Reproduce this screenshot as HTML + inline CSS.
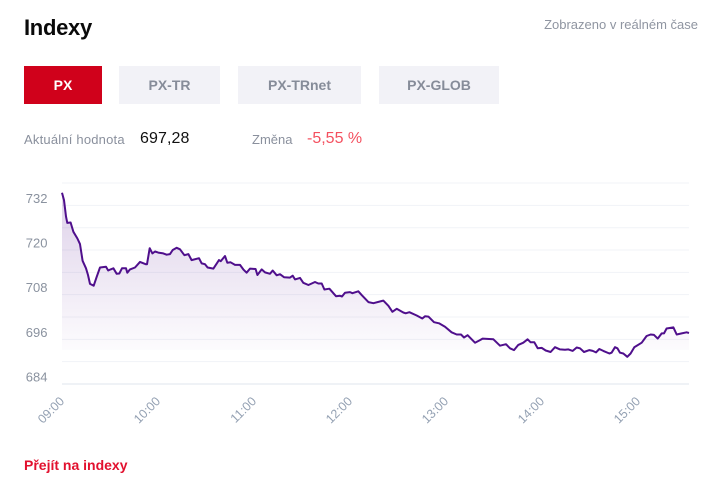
<!DOCTYPE html>
<html lang="cs">
<head>
<meta charset="utf-8">
<title>Indexy</title>
<style>
html,body{margin:0;padding:0;background:#fff;}
body{width:726px;height:484px;position:relative;overflow:hidden;font-family:"Liberation Sans",sans-serif;}
.t{position:absolute;white-space:nowrap;line-height:1;}
.btn{position:absolute;top:66px;height:38px;line-height:38px;text-align:center;font-size:14px;font-weight:bold;background:#f2f2f7;color:#868c99;cursor:pointer;}
#chart{position:absolute;left:0;top:0;}
</style>
</head>
<body>
<div class="t" style="left:24px;top:17px;font-size:22px;font-weight:bold;color:#0a0a0a;letter-spacing:-0.3px;">Indexy</div>
<div class="t" style="right:28px;top:18px;font-size:13px;color:#8f95a1;">Zobrazeno v reálném čase</div>
<div class="btn" style="left:24px;width:78px;background:#d0011b;color:#fff;">PX</div>
<div class="btn" style="left:119px;width:101px;">PX-TR</div>
<div class="btn" style="left:238px;width:123px;">PX-TRnet</div>
<div class="btn" style="left:379px;width:120px;">PX-GLOB</div>
<div class="t" style="left:24px;top:133px;font-size:13px;letter-spacing:0.2px;color:#8a909d;">Aktuální hodnota</div>
<div class="t" style="left:140px;top:131px;font-size:16px;letter-spacing:0.1px;color:#111;">697,28</div>
<div class="t" style="left:252px;top:133px;font-size:13px;color:#8a909d;">Změna</div>
<div class="t" style="left:307px;top:131px;font-size:16px;color:#f4505f;">-5,55 %</div>
<svg id="chart" width="726" height="484" viewBox="0 0 726 484" xmlns="http://www.w3.org/2000/svg">
<defs>
<linearGradient id="areaFill" gradientUnits="userSpaceOnUse" x1="0" y1="193" x2="0" y2="350">
<stop offset="0" stop-color="#5a1a94" stop-opacity="0.2"/>
<stop offset="1" stop-color="#5a1a94" stop-opacity="0.015"/>
<stop offset="1" stop-color="#5a1a94" stop-opacity="0"/>
</linearGradient>
</defs>
</svg>
<div class="t" style="left:24px;top:458px;font-size:14px;font-weight:bold;color:#e2102e;cursor:pointer;">Přejít na indexy</div>
<script>
const gridValues = [684, 690, 696, 702, 708, 714, 720, 726, 732, 738];
const yTickLabels = [684, 696, 708, 720, 732];
const hourMinutes = [0, 60, 120, 180, 240, 300, 360];
const hourLabels = ['09:00', '10:00', '11:00', '12:00', '13:00', '14:00', '15:00'];
const minutes = [0,1.25,2.5,3.3,5.4,7.1,9.6,11.25,12.9,15,16.25,17.5,19.8,21.7,23.75,27.5,28.9,30.4,32.1,34.2,35.8,37.5,40,40.8,42.5,45.6,48.75,52.3,53.1,54.8,56.5,58.1,60.2,63.3,65.4,67.5,69.2,71.7,73.75,76.5,79,81,85.6,87.3,89.4,91,94.6,98.1,99.2,101.9,103.3,105.4,108.1,111.25,113.3,115.4,117.5,121,122.1,124.8,126.9,130,131.7,134.2,136.25,138.75,142.5,144.2,145.6,148.75,150.8,154,158.1,160.2,162.3,164,167.1,171.25,173.75,175,176.9,180,181.5,185.2,187.3,191.5,194.6,200.8,204,206.5,209.2,213.3,214.8,217.1,221.7,225.2,226.9,229,232.5,235.6,239.4,243.5,246.7,249.4,251.25,253.5,258.1,261.25,262.9,269.6,273.75,277.5,280,282.5,285.2,288.3,291,292.9,295.2,297.3,299.8,302.3,305.4,308.1,311.25,314.4,316.5,319.2,321.7,323.75,326.25,329.6,331.7,333.75,335.8,338.3,342.1,343.5,345.6,347.1,348.75,350.8,353.3,355.4,357.7,362.3,365.4,367.9,370,372.3,374.8,376.25,377.9,382.1,384.2,387.3,390.4,391.9];
const values = [735.4,733.4,729,727.3,727.4,724.9,723.1,721.6,717.1,715.1,713.3,710.9,710.4,712.8,715.3,715.5,714.5,714.8,715.1,713.6,713.7,715.1,715.1,713.9,714.8,715.3,716.8,716.2,716.2,720.5,719.1,719.6,719.3,719.1,718.75,718.9,720,720.6,720.2,718.6,718.9,717.3,717.8,716.4,716.2,715.3,715,717.3,717,718.4,716.6,716.7,716,716,714.8,713.9,715,714.9,713.3,714.8,714,713.6,714.5,713.2,713.5,712.7,712.6,713.1,712.1,712.5,711.2,710.6,711.4,711,711,709.4,709.6,707.6,707.7,707.5,708.5,708.7,708.4,708.9,707.9,706,705.7,706.4,705,703.4,704.2,703.2,703,703.3,702.4,701.6,702.2,702.1,700.6,700.3,699.4,697.9,697.3,697.3,696.5,697.1,695.1,695.8,696.2,696,694.3,694.7,693.6,693.1,694.5,695.1,696,695.2,695.2,693.6,693.7,693,692.6,693.9,693.3,693.2,693.3,692.9,693.8,693.6,692.6,693.1,692.9,692.5,693.4,692.9,692.2,692.4,693.9,693.6,692.4,692.2,691.3,692.2,693.9,695.1,696.9,697.3,697.2,696.2,697.6,697.6,698.9,699.2,697.3,697.6,697.9,697.7];

const NS = 'http://www.w3.org/2000/svg';
const svg = document.getElementById('chart');
const plotLeft = 62, plotRight = 689, plotBottom = 384;
function xAxis(m) { return plotLeft + m * 96 / 60; }
function yAxis(v) { return plotBottom - (v - 684) * 22.33 / 6; }
function make(tag, attrs) {
  const el = document.createElementNS(NS, tag);
  for (const k in attrs) el.setAttribute(k, attrs[k]);
  return el;
}
gridValues.forEach(function (v) {
  const isBase = v === gridValues[0];
  const line = make('line', {x1: plotLeft, x2: plotRight, y1: yAxis(v), y2: yAxis(v), stroke: isBase ? '#eaeef4' : '#f1f3f7', 'stroke-width': isBase ? 1.5 : 1});
  
  
  svg.appendChild(line);
});
let linePath = '';
minutes.forEach(function (m, i) {
  linePath += (i ? 'L' : 'M') + xAxis(m).toFixed(1) + ' ' + yAxis(values[i]).toFixed(1);
});
const area = make('path', {d: linePath + 'L' + xAxis(minutes[minutes.length - 1]).toFixed(1) + ' ' + plotBottom + 'L' + plotLeft + ' ' + plotBottom + 'Z', fill: 'url(#areaFill)', stroke: 'none'});


svg.appendChild(area);
const line = make('path', {d: linePath, fill: 'none', stroke: '#4f0f8c', 'stroke-width': 2, 'stroke-linejoin': 'round'});


svg.appendChild(line);
yTickLabels.forEach(function (v) {
  const label = make('text', {x: 47.5, y: yAxis(v) - 2.5, 'text-anchor': 'end', 'font-size': 13, fill: '#8a929f', 'font-family': '"Liberation Sans", sans-serif'});
  label.textContent = v;
  
  
  svg.appendChild(label);
});
hourMinutes.forEach(function (m, i) {
  const px = xAxis(m) + 3, py = 402;
  const label = make('text', {x: px, y: py, 'text-anchor': 'end', transform: 'rotate(-45 ' + px + ' ' + py + ')', 'font-size': 12.5, fill: '#94a1b3', 'font-family': '"Liberation Sans", sans-serif'});
  label.textContent = hourLabels[i];
  
  
  svg.appendChild(label);
});
</script>
</body>
</html>
